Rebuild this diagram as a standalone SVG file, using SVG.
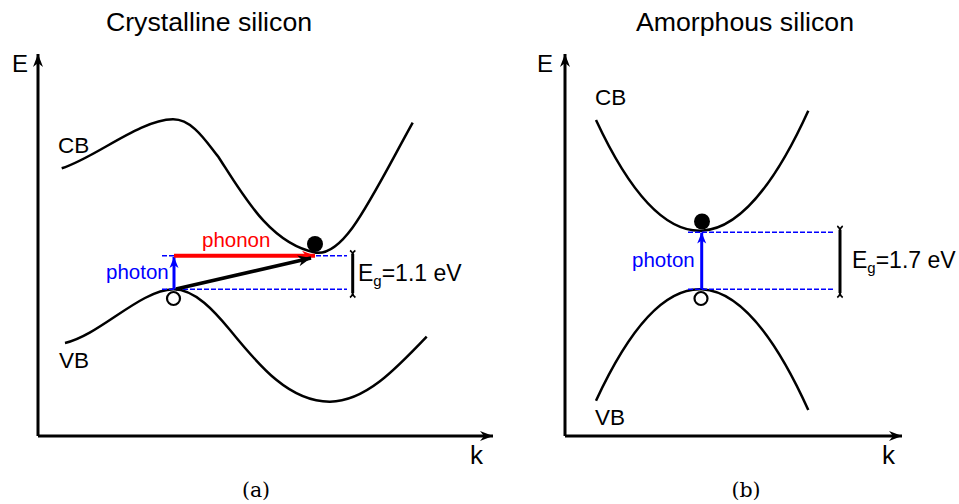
<svg xmlns="http://www.w3.org/2000/svg" width="959" height="504" viewBox="0 0 959 504">
<style>
.t{font-family:"Liberation Sans",Arial,sans-serif;fill:#000}
.cap{font-family:"DejaVu Serif","Liberation Serif",serif;font-size:20.5px;fill:#000}
.band{fill:none;stroke:#000;stroke-width:2.5}
.axis{fill:none;stroke:#000;stroke-width:3}
.dash{fill:none;stroke:#0000ff;stroke-width:1.4;stroke-dasharray:5 2}
.brk{fill:none;stroke:#000;stroke-width:3}
.brkend{fill:none;stroke:#000;stroke-width:1.6}
</style>
<defs>
<marker id="ax" markerUnits="userSpaceOnUse" markerWidth="16" markerHeight="12" viewBox="-14 -6 16 12" refX="0" refY="0" orient="auto">
<path d="M0,0 L-13,-5 L-9,0 L-13,5 Z" fill="#000"/>
</marker>
<marker id="ab" markerUnits="userSpaceOnUse" markerWidth="14" markerHeight="10" viewBox="-12 -5 14 10" refX="0" refY="0" orient="auto">
<path d="M0,0 L-11,-4.5 L-8,0 L-11,4.5 Z" fill="#0000ff"/>
</marker>
<marker id="ak" markerUnits="userSpaceOnUse" markerWidth="16" markerHeight="12" viewBox="-14 -6 16 12" refX="0" refY="0" orient="auto">
<path d="M0,0 L-13,-5.5 L-9,0 L-13,5.5 Z" fill="#000"/>
</marker>
<marker id="ar" markerUnits="userSpaceOnUse" markerWidth="16" markerHeight="12" viewBox="-14 -6 16 12" refX="0" refY="0" orient="auto">
<path d="M0,0 L-13,-5 L-9,0 L-13,5 Z" fill="#ff0000"/>
</marker>
</defs>

<!-- Panel (a) -->
<g id="title-a"><text class="t" x="209" y="31" font-size="26.7" text-anchor="middle">Crystalline silicon</text></g>
<g id="axes-a">
<path class="axis" d="M38,436 V54" marker-end="url(#ax)"/>
<path class="axis" d="M38,436 H493" marker-end="url(#ax)"/>
<text class="t" x="12" y="72" font-size="24">E</text>
<text class="t" x="470" y="464" font-size="26">k</text>
</g>
<g id="cb-a">
<path class="band" d="M61.7,168.3 C95,158 140,119.5 173,119.3 C193,119.2 207,143 218.3,156.7 C243,195 270,244 316,252.7 C345,256 370,200 412.7,122.7"/>
<text class="t" x="58" y="153" font-size="22.5">CB</text>
</g>
<g id="vb-a">
<path class="band" d="M65,343 C100,335 140,290 173.3,289.3 C195,289 215,312 230,330 C260,367 290,402 330,401.7 C365,401.5 395,370 426.7,336.7"/>
<text class="t" x="59" y="368" font-size="22.5">VB</text>
</g>
<g id="electron-a"><circle cx="315" cy="244" r="8" fill="#000"/></g>
<g id="hole-a"><circle cx="173.5" cy="298.5" r="6.5" fill="#fff" stroke="#000" stroke-width="2.2"/></g>
<g id="gap-a">
<path class="dash" d="M162,255.7 H347 M162,289.3 H347"/>
<path class="brk" d="M352.7,254 V293"/>
<path class="brkend" d="M352.7,255 Q352.7,252 350,250.5 M352.7,255 Q352.7,252 355.4,250.5 M352.7,292.5 Q352.7,295.5 350,297.5 M352.7,292.5 Q352.7,295.5 355.4,297.5"/>
<text class="t" x="358" y="281" font-size="23">E<tspan font-size="15" dy="5">g</tspan><tspan dy="-5">=1.1 eV</tspan></text>
</g>
<g id="labels-a">
<text class="t" x="106" y="279" font-size="20.5" style="fill:#0000ff">photon</text>
<text class="t" x="202" y="247" font-size="20.5" style="fill:#ff0000">phonon</text>
</g>
<g id="caption-a"><text class="cap" x="256" y="497" text-anchor="middle">(a)</text></g>

<!-- Panel (b) -->
<g id="title-b"><text class="t" x="745" y="31" font-size="26.7" text-anchor="middle">Amorphous silicon</text></g>
<g id="axes-b">
<path class="axis" d="M565,436 V54" marker-end="url(#ax)"/>
<path class="axis" d="M565,436 H902" marker-end="url(#ax)"/>
<text class="t" x="537" y="72" font-size="24">E</text>
<text class="t" x="882" y="464" font-size="26">k</text>
</g>
<g id="cb-b">
<path class="band" d="M596,120 Q701.2,346 808.3,110.7"/>
<text class="t" x="595" y="105" font-size="22.5">CB</text>
</g>
<g id="vb-b">
<path class="band" d="M596,400.7 Q701.2,173.2 808.3,410"/>
<text class="t" x="595" y="425" font-size="22.5">VB</text>
</g>
<g id="electron-b"><circle cx="702" cy="221.5" r="8" fill="#000"/></g>
<g id="hole-b"><circle cx="701" cy="298.5" r="6.5" fill="#fff" stroke="#000" stroke-width="2.2"/></g>
<g id="gap-b">
<path class="dash" d="M688,232.3 H834 M688,289.3 H834"/>
<path class="brk" d="M840,230 V293"/>
<path class="brkend" d="M840,231 Q840,228 837.3,226 M840,231 Q840,228 842.7,226 M840,292.5 Q840,295.5 837.3,297.5 M840,292.5 Q840,295.5 842.7,297.5"/>
<text class="t" x="852" y="268" font-size="23">E<tspan font-size="15" dy="5">g</tspan><tspan dy="-5">=1.7 eV</tspan></text>
</g>
<g id="labels-b">
<text class="t" x="632" y="267" font-size="20.5" style="fill:#0000ff">photon</text>
</g>
<g id="caption-b"><text class="cap" x="746" y="497" text-anchor="middle">(b)</text></g>

<!-- Connectors -->
<g id="connectors">
<path d="M174,289.3 V257" stroke="#0000ff" stroke-width="3" fill="none" marker-end="url(#ab)"/>
<path d="M174,255.7 H315" stroke="#ff0000" stroke-width="4" fill="none" marker-end="url(#ar)"/>
<path d="M176,289 L311,258" stroke="#000" stroke-width="3.5" fill="none" marker-end="url(#ak)"/>
<path d="M701.7,289.3 V232.5" stroke="#0000ff" stroke-width="3" fill="none" marker-end="url(#ab)"/>
</g>
</svg>
